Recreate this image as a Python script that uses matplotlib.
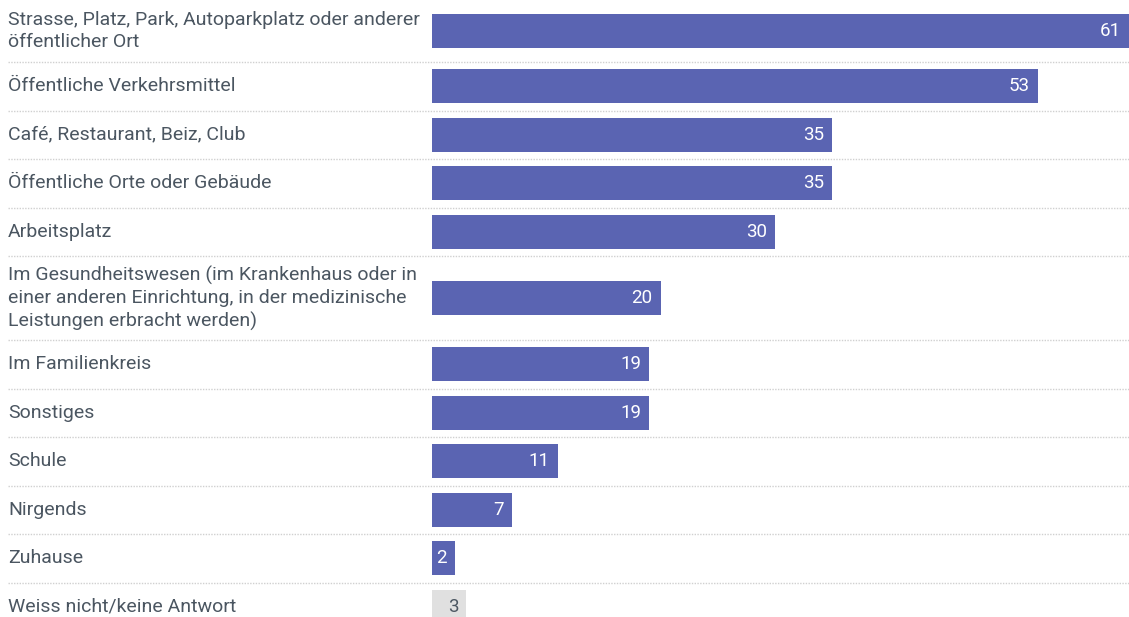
import matplotlib
matplotlib.use("Agg")
import matplotlib.pyplot as plt
import matplotlib.transforms as mtransforms

# data
labels = [
    "Strasse, Platz, Park, Autoparkplatz oder anderer\nöffentlicher Ort",
    "Öffentliche Verkehrsmittel",
    "Café, Restaurant, Beiz, Club",
    "Öffentliche Orte oder Gebäude",
    "Arbeitsplatz",
    "Im Gesundheitswesen (im Krankenhaus oder in\neiner anderen Einrichtung, in der medizinische\nLeistungen erbracht werden)",
    "Im Familienkreis",
    "Sonstiges",
    "Schule",
    "Nirgends",
    "Zuhause",
    "Weiss nicht/keine Antwort",
]
values = [61, 53, 35, 35, 30, 20, 19, 19, 11, 7, 2, 3]
is_no_answer = [False] * 11 + [True]

BAR = "#5a64b2"
GREY_BAR = "#e0e0e0"
TXT = "#4b5661"
FONT = "Roboto"

W, H = 1129, 617
fig = plt.figure(figsize=(W / 100, H / 100), dpi=100)
ax = fig.add_axes([432 / W, 0, 1 - 432 / W, 1])
ax.set_xlim(0, 61)
ax.set_ylim(H, 0)
ax.axis("off")

# row layout in pixels from number of label lines
base, per_line = 30.75, 17.75
tops, centers = [], []
y = -4.25
for lab in labels:
    n = lab.count("\n") + 1
    h = base + per_line * n
    tops.append(y)
    # first row is cut a little at the top of the picture
    centers.append(y + h / 2 + (2 if y < 0 else 0))
    y += h

lab_tr = mtransforms.blended_transform_factory(fig.transFigure, ax.transData)

for i, (lab, v) in enumerate(zip(labels, values)):
    c = centers[i]
    col = GREY_BAR if is_no_answer[i] else BAR
    ax.barh(c, v, height=34, color=col, left=0)
    ax.text(v - 0.7, c, str(v), ha="right", va="center",
            color=TXT if is_no_answer[i] else "white", fontsize=13.5, family=FONT)
    ax.text(8 / W, c, lab, transform=lab_tr, ha="left", va="center",
            color=TXT, fontsize=14, family=FONT, linespacing=1.3)
    if i > 0:
        ax.plot([8 / W, 1], [tops[i], tops[i]], transform=lab_tr, color="#d0d0d0",
                lw=1, ls=(0, (1, 1)), clip_on=False)

fig.savefig("out.png", dpi=100)
